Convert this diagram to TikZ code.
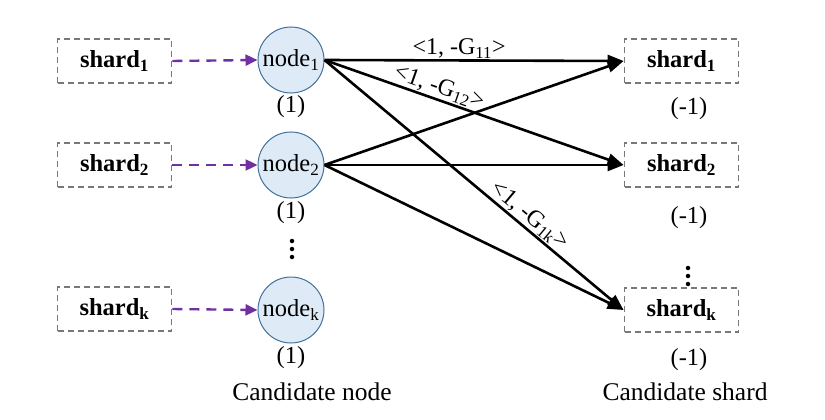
\documentclass[tikz,border=0pt]{standalone}
\usepackage{fontspec}
\setmainfont{Liberation Serif}
\usetikzlibrary{arrows.meta}
\definecolor{boxgray}{RGB}{120,120,120}
\definecolor{cfill}{RGB}{222,235,247}
\definecolor{cdraw}{RGB}{65,113,156}
\definecolor{purp}{RGB}{112,48,160}
\tikzset{
  shardbox/.style={draw=boxgray, line width=1.9pt, dash pattern=on 6pt off 4pt, minimum width=114pt, minimum height=44pt, inner sep=0pt, font=\fontsize{24.5}{26}\selectfont\bfseries},
  cnode/.style={circle, draw=cdraw, line width=1pt, fill=cfill, minimum size=66pt, inner sep=0pt, font=\fontsize{24.5}{26}\selectfont},
  plain/.style={inner sep=0pt, font=\fontsize{24.5}{26}\selectfont},
  caption/.style={inner sep=0pt, font=\fontsize{25.5}{27}\selectfont},
  dotc/.style={circle, fill=black, inner sep=0pt, minimum size=4.5pt},
  purarrow/.style={draw=purp, line width=2.4pt, dash pattern=on 10pt off 7pt, -{Triangle[length=12pt,width=11pt]}},
  blkarrow/.style={draw=black, line width=2.6pt, -{Triangle[length=16pt,width=12pt]}},
  elabel/.style={inner sep=1pt, font=\fontsize{24}{26}\selectfont},
}
\begin{document}
\begin{tikzpicture}[x=1pt,y=-1pt]
\useasboundingbox (0,0) rectangle (825,420);
% left shards
\node[shardbox] (ls1) at (114.5,61) {shard\textsubscript{1}};
\node[shardbox] (ls2) at (114.5,165) {shard\textsubscript{2}};
\node[shardbox] (lsk) at (114.5,309) {shard\textsubscript{k}};
% candidate nodes
\node[cnode] (n1) at (291,60) {node\textsubscript{1}};
\node[cnode] (n2) at (291,165) {node\textsubscript{2}};
\node[cnode] (nk) at (291,310) {node\textsubscript{k}};
\node[plain] (w1) at (291,107) {(1)};
\node[plain] (w2) at (291,213) {(1)};
\node[plain] (wk) at (291,358) {(1)};
\node[dotc] (ld1) at (292,241) {};
\node[dotc] (ld2) at (292,249) {};
\node[dotc] (ld3) at (292,257) {};
% right shards
\node[shardbox] (rs1) at (681.5,61) {shard\textsubscript{1}};
\node[shardbox] (rs2) at (681.5,165) {shard\textsubscript{2}};
\node[shardbox] (rsk) at (681.5,310) {shard\textsubscript{k}};
\node[plain] (r1) at (689,109) {(-1)};
\node[plain] (r2) at (689,218) {(-1)};
\node[plain] (rk) at (689,360) {(-1)};
\node[dotc] (rd1) at (688,268) {};
\node[dotc] (rd2) at (688,276) {};
\node[dotc] (rd3) at (688,284) {};
% captions
\node[caption] (cn) at (312,392) {Candidate node};
\node[caption] (cs) at (685,392) {Candidate shard};
% purple arrows
\draw[purarrow] (ls1.east) -- (n1.west);
\draw[purarrow] (ls2.east) -- (n2.west);
\draw[purarrow] (lsk.east) -- (nk.west);
% black arrows
\draw[blkarrow] (n1.east) -- node[elabel, above, pos=0.45] {<1, -G\textsubscript{11}>} (rs1.west);
\draw[blkarrow] (n1.east) -- node[elabel, sloped, above, pos=0.37] {<1, -G\textsubscript{12}>} (rs2.west);
\draw[blkarrow] (n1.east) -- node[elabel, sloped, above, pos=0.66] {<1, -G\textsubscript{1k}>} (rsk.west);
\draw[blkarrow] (n2.east) -- (rs1.west);
\draw[blkarrow] (n2.east) -- (rs2.west);
\draw[blkarrow] (n2.east) -- (rsk.west);
\end{tikzpicture}
\end{document}
